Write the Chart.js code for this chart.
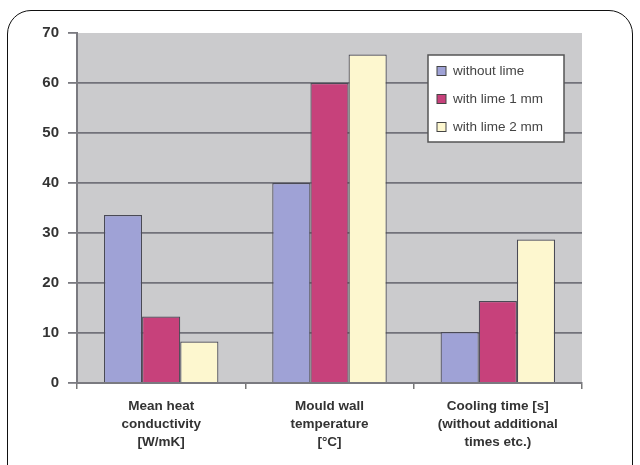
<!DOCTYPE html>
<html>
<head>
<meta charset="utf-8">
<script src="https://cdn.jsdelivr.net/npm/chart.js@4.4.1/dist/chart.umd.min.js"></script>
<style>
  html, body { margin: 0; padding: 0; background: #fff; overflow: hidden; }
  #wrap { position: relative; width: 640px; height: 465px; }
  #frame {
    position: absolute; left: 7px; top: 10px; width: 626px; height: 520px;
    border: 1.5px solid #111; border-radius: 24px; box-sizing: border-box;
  }
  canvas { position: absolute; left: 0; top: 0; }
</style>
</head>
<body>
<div id="wrap">
  <div id="frame"></div>
  <canvas id="chart" width="640" height="465"></canvas>
</div>
<script>
// categories (multi-line labels)
const categories = [
    ["Mean heat", "conductivity", "[W/mK]"],
    ["Mould wall", "temperature", "[°C]"],
    ["Cooling time [s]", "(without additional", "times etc.)"]
];
const seriesNames = ["without lime", "with lime 1 mm", "with lime 2 mm"];
const withoutLime = [33.6, 40, 10.2];
const withLime1 = [13.3, 60, 16.4];
const withLime2 = [8.3, 65.7, 28.7];
const seriesColors = ["#9fa2d6", "#c7417b", "#fdf7cf"];
const yTicks = [0, 10, 20, 30, 40, 50, 60, 70];

const FONT = "'Liberation Sans', Arial, sans-serif";

// grey plot background
const plotBg = {
    id: "plotBg",
    beforeDraw(chart) {
        const { ctx, chartArea: a } = chart;
        ctx.save();
        ctx.fillStyle = "#cbcbcd";
        ctx.fillRect(a.left, a.top, a.right - a.left, a.bottom - a.top);
        ctx.restore();
    }
};

// boxed legend inside the plot, top right
const boxLegend = {
    id: "boxLegend",
    afterDraw(chart) {
        const { ctx, chartArea: a } = chart;
        const x = a.right - 154, y = a.top + 22, w = 136, h = 87;
        ctx.save();
        ctx.fillStyle = "#fff";
        ctx.strokeStyle = "#555";
        ctx.lineWidth = 1.5;
        ctx.fillRect(x, y, w, h);
        ctx.strokeRect(x, y, w, h);
        ctx.font = "13.5px " + FONT;
        ctx.textBaseline = "middle";
        chart.data.datasets.forEach((ds, i) => {
            const cy = y + 16 + i * 28;
            ctx.fillStyle = ds.backgroundColor;
            ctx.fillRect(x + 9, cy - 4.5, 9, 9);
            ctx.strokeStyle = "#444";
            ctx.lineWidth = 1;
            ctx.strokeRect(x + 9, cy - 4.5, 9, 9);
            ctx.fillStyle = "#444";
            ctx.fillText(ds.label, x + 25, cy);
        });
        ctx.restore();
    }
};

const datasets = [withoutLime, withLime1, withLime2].map((vals, i) => ({
    label: seriesNames[i],
    data: vals,
    backgroundColor: seriesColors[i],
    borderColor: "#4a4a55",
    borderWidth: 1.2,
    categoryPercentage: 0.68,
    barPercentage: 1.0
}));

new Chart(document.getElementById("chart"), {
    type: "bar",
    data: { labels: categories, datasets: datasets },
    options: {
        responsive: false,
        animation: false,
        layout: { padding: { left: 0, top: 33, right: 58, bottom: 0 } },
        plugins: { legend: { display: false }, tooltip: { enabled: false } },
        scales: {
            x: {
                grid: { offset: true, drawOnChartArea: false, color: "#777", tickLength: 6, lineWidth: 1.5 },
                border: { color: "#7a7a80", width: 2 },
                ticks: {
                    color: "#333",
                    font: { family: FONT, size: 13.5, weight: "bold", lineHeight: 1.3 },
                    maxRotation: 0,
                    padding: 9
                },
                afterFit(scale) { scale.height = 82; }
            },
            y: {
                min: 0,
                max: 70,
                afterBuildTicks(scale) { scale.ticks = yTicks.map(v => ({ value: v })); },
                grid: {
                    color: ctx => (ctx.tick && ctx.tick.value === 70) ? "rgba(0,0,0,0)" : "#72727a",
                    lineWidth: 1.8,
                    tickLength: 9,
                    tickColor: "#7a7a80"
                },
                border: { color: "#7a7a80", width: 2 },
                ticks: {
                    color: "#333",
                    font: { family: FONT, size: 15, weight: "bold" },
                    padding: 9
                },
                afterFit(scale) { scale.width = 77; }
            }
        }
    },
    plugins: [plotBg, boxLegend]
});
</script>
</body>
</html>
